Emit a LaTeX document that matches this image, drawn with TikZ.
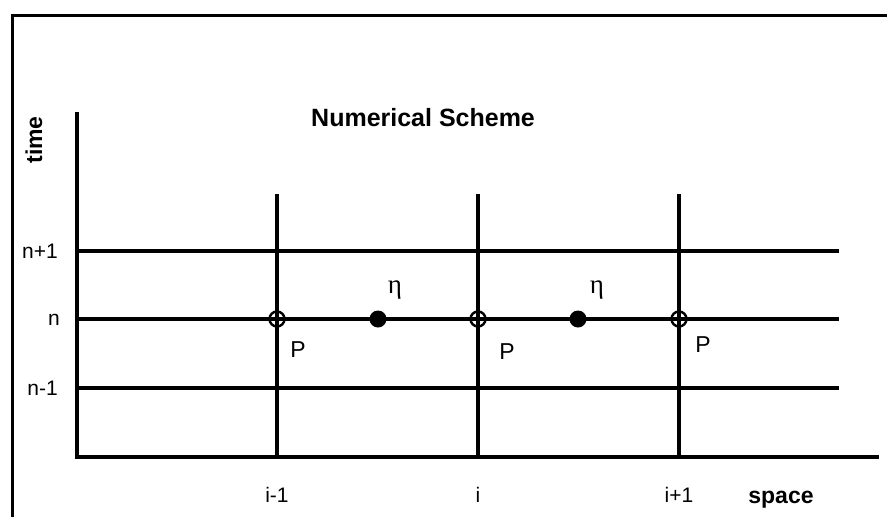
\documentclass[tikz,border=0pt]{standalone}
\usepackage{fontspec}
\setmainfont{Liberation Sans}
\newfontfamily\greekfont{Liberation Serif}
\begin{document}
\begin{tikzpicture}[x=1pt,y=-1pt,
  gridline/.style={line width=3.1pt},
  frameline/.style={line width=3pt},
  openpt/.style={circle,draw,line width=2.4pt,minimum size=15pt,inner sep=0pt},
  fullpt/.style={circle,fill,minimum size=17pt,inner sep=0pt},
  lbl/.style={font=\fontsize{21}{25}\selectfont,inner sep=0pt},
  plbl/.style={font=\fontsize{23}{27}\selectfont,inner sep=0pt},
  blbl/.style={font=\fontsize{23}{27}\selectfont\bfseries,inner sep=0pt},
  etalbl/.style={font=\fontsize{27}{31}\selectfont\greekfont,inner sep=0pt}]
\useasboundingbox (0,0) rectangle (887,517);
% frame
\coordinate (fbl) at (12,517);
\coordinate (ftl) at (12,15);
\coordinate (ftr) at (887,15);
\draw[frameline] (fbl) -- (ftl) -- (ftr);
% axes
\coordinate (o) at (77,457);
\coordinate (ytop) at (77,112);
\coordinate (xend) at (879,457);
\draw[gridline] (ytop) -- (o) -- (xend);
% horizontal time levels
\coordinate (a1) at (77,251); \coordinate (b1) at (839,251);
\coordinate (a0) at (77,319); \coordinate (b0) at (839,319);
\coordinate (am) at (77,388); \coordinate (bm) at (839,388);
\draw[gridline] (a1) -- (b1);
\draw[gridline] (a0) -- (b0);
\draw[gridline] (am) -- (bm);
% vertical space levels
\coordinate (t1) at (277,194); \coordinate (u1) at (277,457);
\coordinate (t2) at (478,194); \coordinate (u2) at (478,457);
\coordinate (t3) at (679,194); \coordinate (u3) at (679,457);
\draw[gridline] (t1) -- (u1);
\draw[gridline] (t2) -- (u2);
\draw[gridline] (t3) -- (u3);
% points
\node[openpt] (p1) at (277,319) {};
\node[openpt] (p2) at (478,319) {};
\node[openpt] (p3) at (679,319) {};
\node[fullpt] (e1) at (378,319) {};
\node[fullpt] (e2) at (578,319) {};
% labels
\node[etalbl] (eta1) at (395,290) {η};
\node[etalbl] (eta2) at (597,290) {η};
\node[plbl] (P1) at (298,350) {P};
\node[plbl] (P2) at (507,352) {P};
\node[plbl] (P3) at (703,345) {P};
\node[lbl,anchor=east] (ln1) at (58,251) {n+1};
\node[lbl,anchor=east] (ln0) at (60,320) {n};
\node[lbl,anchor=east] (lnm) at (58,388) {n-1};
\node[lbl] (li1) at (277,495) {i-1};
\node[lbl] (li2) at (478,495) {i};
\node[lbl] (li3) at (679,495) {i+1};
\node[blbl] (sp) at (781,500) {space};
\node[blbl,rotate=90] (tm) at (34,140) {time};
\node[blbl,font=\fontsize{25}{30}\selectfont\bfseries,anchor=west] (title) at (311,118) {Numerical Scheme};
\end{tikzpicture}
\end{document}
